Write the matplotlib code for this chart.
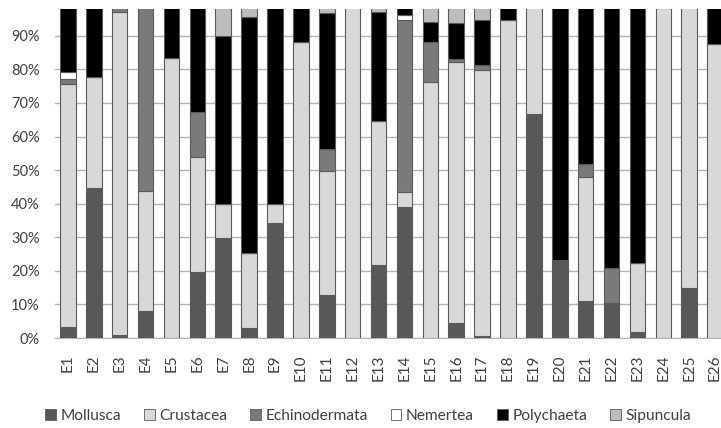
import matplotlib
matplotlib.use("Agg")
import matplotlib.pyplot as plt
from matplotlib.ticker import PercentFormatter
from matplotlib.patches import Patch
import numpy as np

plt.rcParams['font.family'] = ['Lato', 'DejaVu Sans']

stations = [f"E{i}" for i in range(1, 27)]
mollusca      = [3.4, 44.6, 0.9, 8.0, 0.0, 19.8, 29.9, 3.1, 34.4, 0.0, 12.8, 0.0, 21.6, 39.1, 0.0, 4.4, 0.6, 0.0, 66.7, 23.2, 11.0, 10.5, 1.9, 0.0, 14.8, 0.0]
crustacea     = [72.3, 33.1, 96.1, 35.8, 83.3, 34.2, 10.0, 22.3, 5.5, 88.3, 37.0, 100.0, 43.1, 4.5, 76.2, 77.9, 79.3, 94.8, 33.3, 0.0, 36.9, 0.0, 20.5, 100.0, 85.2, 87.5]
echinodermata = [1.5, 0.0, 3.0, 56.2, 0.0, 13.4, 0.0, 0.0, 0.0, 0.0, 6.5, 0.0, 0.0, 51.2, 12.1, 0.8, 1.5, 0.0, 0.0, 0.0, 4.0, 10.5, 0.0, 0.0, 0.0, 0.0]
nemertea      = [1.9, 0.0, 0.0, 0.0, 0.0, 0.0, 0.0, 0.0, 0.0, 0.0, 0.0, 0.0, 0.0, 1.5, 0.0, 0.0, 0.0, 0.0, 0.0, 0.0, 0.0, 0.0, 0.0, 0.0, 0.0, 0.0]
polychaeta    = [20.9, 22.3, 0.0, 0.0, 16.7, 32.6, 50.1, 70.1, 60.1, 11.7, 40.5, 0.0, 32.5, 3.7, 5.7, 10.7, 13.2, 5.2, 0.0, 76.8, 48.1, 79.0, 77.6, 0.0, 0.0, 12.5]
sipuncula     = [0.0, 0.0, 0.0, 0.0, 0.0, 0.0, 10.0, 4.5, 0.0, 0.0, 3.2, 0.0, 2.8, 0.0, 6.0, 6.2, 5.4, 0.0, 0.0, 0.0, 0.0, 0.0, 0.0, 0.0, 0.0, 0.0]

groups = ["Mollusca", "Crustacea", "Echinodermata", "Nemertea", "Polychaeta", "Sipuncula"]
series = [mollusca, crustacea, echinodermata, nemertea, polychaeta, sipuncula]
colors = ["#585858", "#d8d8d8", "#7a7a7a", "#ffffff", "#000000", "#bdbdbd"]

fig = plt.figure(figsize=(7.21, 4.28), dpi=100)
ax = fig.add_axes([55/721, 90/428, 673/721, 329/428])

x = np.arange(len(stations))
bottom = np.zeros(len(stations))
for name, vals, c in zip(groups, series, colors):
    v = np.array(vals) / 100.0
    ax.bar(x, v, bottom=bottom, width=0.6, color=c, edgecolor="#5a5a5a", linewidth=0.8, label=name, zorder=3)
    bottom += v

ax.set_xlim(-0.5, len(stations) - 0.5)
ax.set_ylim(0, 0.98)
ax.set_yticks(np.arange(0, 0.91, 0.1))
ax.yaxis.set_major_formatter(PercentFormatter(1.0, decimals=0))
ax.grid(axis='y', color="#b4b4b4", linewidth=1.0, zorder=0)
ax.set_xticks(x)
ax.set_xticklabels(stations, rotation=90, fontsize=11, color="#404040")
ax.tick_params(axis='y', labelsize=10.5, colors="#404040", length=0, pad=11)
ax.tick_params(axis='x', length=0, pad=12)
for s in ["top", "right", "left"]:
    ax.spines[s].set_visible(False)
ax.spines["bottom"].set_color("#b4b4b4")

handles = [Patch(facecolor=c, edgecolor="#5a5a5a", linewidth=0.6) for c in colors]
fig.legend(handles, groups, loc="center", bbox_to_anchor=(368/721, 1 - 416/428), ncol=6, frameon=False,
           fontsize=11.2, handlelength=0.7, handleheight=0.7, handletextpad=0.3, columnspacing=1.45, labelcolor="#404040")

fig.savefig("out.png", dpi=100)
